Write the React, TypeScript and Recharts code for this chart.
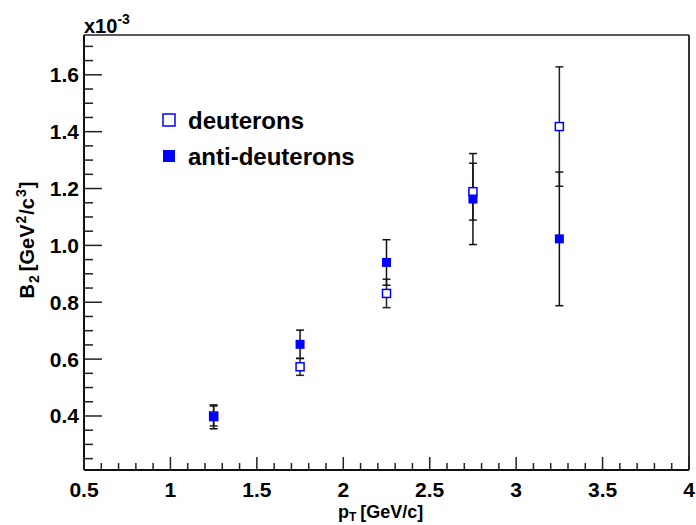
import React from 'react';
import { ScatterChart, Scatter, XAxis, YAxis, ErrorBar, Legend } from 'recharts';

// pT bin centres [GeV/c]
const ptBins = [1.25, 1.75, 2.25, 2.75, 3.25];

// B2 values (x10^-3) and their errors
const deuteronB2 = [0.4, 0.573, 0.831, 1.189, 1.418];
const deuteronErr = [0.035, 0.03, 0.05, 0.1, 0.21];
const antiB2 = [0.397, 0.652, 0.94, 1.163, 1.023];
const antiErr = [0.042, 0.05, 0.08, 0.16, 0.235];

const xTicks = [
  0.5, 0.6, 0.7, 0.8, 0.9, 1.0, 1.1, 1.2, 1.3, 1.4, 1.5, 1.6, 1.7, 1.8, 1.9, 2.0, 2.1, 2.2,
  2.3, 2.4, 2.5, 2.6, 2.7, 2.8, 2.9, 3.0, 3.1, 3.2, 3.3, 3.4, 3.5, 3.6, 3.7, 3.8, 3.9, 4.0,
];
const yTicks = [
  0.25, 0.3, 0.35, 0.4, 0.45, 0.5, 0.55, 0.6, 0.65, 0.7, 0.75, 0.8, 0.85, 0.9, 0.95, 1.0,
  1.05, 1.1, 1.15, 1.2, 1.25, 1.3, 1.35, 1.4, 1.45, 1.5, 1.55, 1.6, 1.65, 1.7,
];

const FONT = '"Liberation Sans", Arial, Helvetica, sans-serif';
const BLUE = '#0000ff';

const deuteronData = ptBins.map((x, i) => ({ x, y: deuteronB2[i], err: deuteronErr[i] }));
const antiData = ptBins.map((x, i) => ({ x, y: antiB2[i], err: antiErr[i] }));

const isMultiple = (v: number, step: number) => Math.abs(v / step - Math.round(v / step)) < 1e-6;

const XTick = (props: any) => {
  const { x, y, payload } = props;
  const major = isMultiple(payload.value, 0.5);
  return (
    <g>
      <line x1={x} x2={x} y1={y} y2={y - (major ? 13 : 7)} stroke="#222" strokeWidth={1.5} />
      {major && (
        <text x={x} y={y + 27} textAnchor="middle" fontFamily={FONT} fontWeight="bold" fontSize={21} fill="#000">
          {String(payload.value)}
        </text>
      )}
    </g>
  );
};

const YTick = (props: any) => {
  const { x, y, payload } = props;
  const major = isMultiple(payload.value, 0.2);
  return (
    <g>
      <line x1={x} x2={x + (major ? 18 : 9)} y1={y} y2={y} stroke="#222" strokeWidth={1.5} />
      {major && (
        <text x={x - 5} y={y + 7.5} textAnchor="end" fontFamily={FONT} fontWeight="bold" fontSize={21} fill="#000">
          {payload.value.toFixed(1)}
        </text>
      )}
    </g>
  );
};

const OpenSquare = (props: any) => {
  const { cx, cy } = props;
  return <rect x={cx - 4} y={cy - 4} width={8} height={8} fill="#fff" stroke={BLUE} strokeWidth={1.5} />;
};

const FilledSquare = (props: any) => {
  const { cx, cy } = props;
  return <rect x={cx - 4.5} y={cy - 4.5} width={9} height={9} fill={BLUE} />;
};

const LegendBox = () => (
  <svg width={230} height={70}>
    <rect x={4} y={9} width={12} height={12} fill="#fff" stroke={BLUE} strokeWidth={1.5} />
    <text x={29} y={24} fontFamily={FONT} fontWeight="bold" fontSize={24} fill="#000">deuterons</text>
    <rect x={4} y={45} width={12} height={12} fill={BLUE} />
    <text x={29} y={60} fontFamily={FONT} fontWeight="bold" fontSize={24} fill="#000">anti-deuterons</text>
  </svg>
);

export default function App() {
  return (
    <div style={{ position: 'absolute', left: 0, top: 0, width: 696, height: 525, background: '#fff' }}>
      <ScatterChart width={696} height={525} margin={{ top: 34, right: 6, bottom: 54, left: 83 }}>
        <XAxis
          xAxisId="b"
          dataKey="x"
          type="number"
          domain={[0.5, 4]}
          ticks={xTicks}
          interval={0}
          height={1}
          tickSize={0}
          tickMargin={0}
          tickLine={false}
          tick={<XTick />}
          axisLine={{ stroke: '#111', strokeWidth: 2 }}
          allowDataOverflow
        />
        <XAxis xAxisId="t" orientation="top" type="number" domain={[0.5, 4]} height={1} tick={false} tickLine={false} axisLine={{ stroke: '#222', strokeWidth: 1.5 }} />
        <YAxis
          yAxisId="l"
          dataKey="y"
          type="number"
          domain={[0.21, 1.74]}
          ticks={yTicks}
          interval={0}
          width={1}
          tickSize={0}
          tickMargin={0}
          tickLine={false}
          tick={<YTick />}
          axisLine={{ stroke: '#111', strokeWidth: 2 }}
          allowDataOverflow
        />
        <YAxis yAxisId="r" orientation="right" type="number" domain={[0.21, 1.74]} width={1} tick={false} tickLine={false} axisLine={{ stroke: '#333', strokeWidth: 2 }} />
        <Legend
          layout="vertical"
          align="center"
          verticalAlign="middle"
          content={<LegendBox />}
          wrapperStyle={{ left: 159, top: 105, width: 230, height: 70 }}
        />
        <Scatter name="deuterons" data={deuteronData} xAxisId="b" yAxisId="l" shape={<OpenSquare />} isAnimationActive={false}>
          <ErrorBar dataKey="err" direction="y" width={4} stroke="#222" strokeWidth={1.5} />
        </Scatter>
        <Scatter name="anti-deuterons" data={antiData} xAxisId="b" yAxisId="l" shape={<FilledSquare />} isAnimationActive={false}>
          <ErrorBar dataKey="err" direction="y" width={4} stroke="#111" strokeWidth={1.5} />
        </Scatter>
      </ScatterChart>
      <svg width={696} height={525} style={{ position: 'absolute', left: 0, top: 0, pointerEvents: 'none' }}>
        <text x={84} y={33} fontFamily={FONT} fontWeight="bold" fontSize={20} fill="#000">
          x10<tspan dy={-9} fontSize={14}>-3</tspan>
        </text>
        <text
          transform="translate(34,240) rotate(-90)"
          textAnchor="middle"
          fontFamily={FONT}
          fontWeight="bold"
          fontSize={20}
          fill="#000"
        >
          B<tspan dx={1} dy={5} fontSize={14}>2</tspan>
          <tspan dx={4} dy={-5}>[GeV</tspan>
          <tspan dx={1} dy={-8} fontSize={14}>2</tspan>
          <tspan dx={1} dy={8}>/c</tspan>
          <tspan dx={1} dy={-8} fontSize={14}>3</tspan>
          <tspan dx={1} dy={8}>]</tspan>
        </text>
        <text x={338} y={518} fontFamily={FONT} fontWeight="bold" fontSize={18} fill="#000">
          p<tspan dy={3} fontSize={12}>T</tspan>
          <tspan dx={4} dy={-3}>[GeV/c]</tspan>
        </text>
      </svg>
    </div>
  );
}
